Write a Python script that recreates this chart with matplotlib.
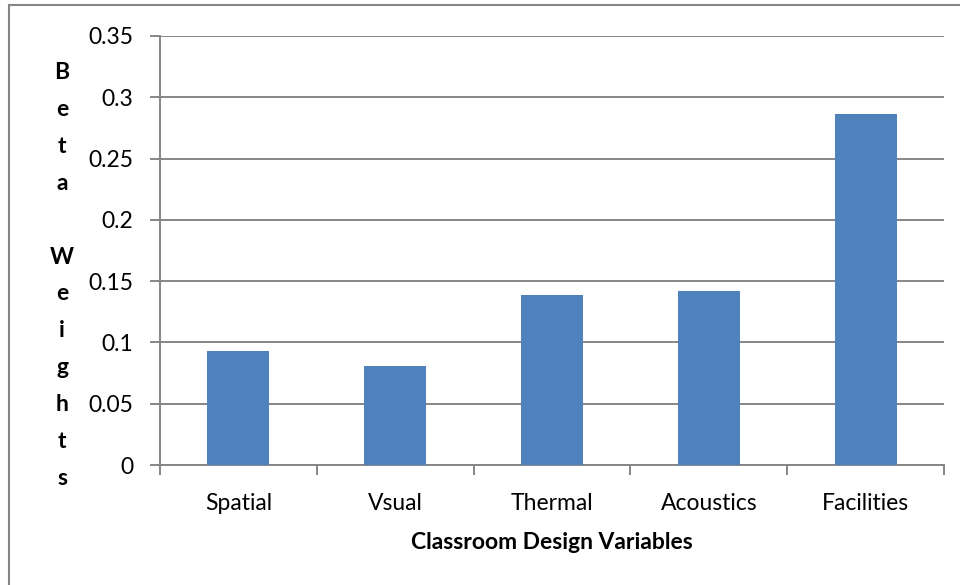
import matplotlib
matplotlib.use("Agg")
import matplotlib.pyplot as plt
import numpy as np

categories = ["Spatial", "Vsual", "Thermal", "Acoustics", "Facilities"]
beta_weights = [0.093, 0.081, 0.139, 0.142, 0.286]
y_ticks = [0, 0.05, 0.1, 0.15, 0.2, 0.25, 0.3, 0.35]
y_tick_labels = ["0", "0.05", "0.1", "0.15", "0.2", "0.25", "0.3", "0.35"]

plt.rcParams["font.family"] = ["Lato", "DejaVu Sans"]

W, H = 960, 585
fig = plt.figure(figsize=(W / 100, H / 100), dpi=100)

# plot area in pixel coordinates
left, right, top, bottom = 160, 944, 36, 465
ax = fig.add_axes([left / W, 1 - bottom / H, (right - left) / W, (bottom - top) / H])

grid_col = "#868686"
fs = 16.5
x = np.arange(len(categories))
ax.bar(x, beta_weights, width=0.395, color="#4F81BD", zorder=3)

ax.set_xlim(-0.5, len(categories) - 0.5)
ax.set_ylim(0, 0.35)
ax.set_yticks(y_ticks)
ax.set_yticklabels(y_tick_labels, fontsize=fs, color="#000000")
ax.yaxis.grid(True, color=grid_col, linewidth=1.4, zorder=0)
ax.set_axisbelow(True)

# category labels centred, tick marks on category boundaries
ax.set_xticks(x)
ax.set_xticklabels(categories, fontsize=fs)
ax.tick_params(axis="x", which="major", length=0, pad=20)
ax.set_xticks(np.arange(-0.5, len(categories)), minor=True)
ax.tick_params(axis="x", which="minor", length=7, width=1.4, color=grid_col)
ax.tick_params(axis="y", length=7, width=1.4, color=grid_col, pad=12)

for side in ["top", "right"]:
    ax.spines[side].set_visible(False)
for side in ["left", "bottom"]:
    ax.spines[side].set_color(grid_col)
    ax.spines[side].set_linewidth(1.4)

ax.set_xlabel("Classroom Design Variables", fontsize=fs, fontweight="bold", labelpad=13)

# stacked vertical axis title
fig.text(62 / W, 1 - 275.5 / H, "B\ne\nt\na\n\nW\ne\ni\ng\nh\nt\ns",
         ha="center", va="center", fontsize=fs, fontweight="bold",
         linespacing=1.94)

# outer chart border
fig.add_artist(plt.Rectangle((9 / W, -0.05), 1.2, 1 - 5 / H + 0.05,
                             transform=fig.transFigure, fill=False,
                             edgecolor="#868686", linewidth=1.5))

fig.savefig("out.png", dpi=100, facecolor="white")
